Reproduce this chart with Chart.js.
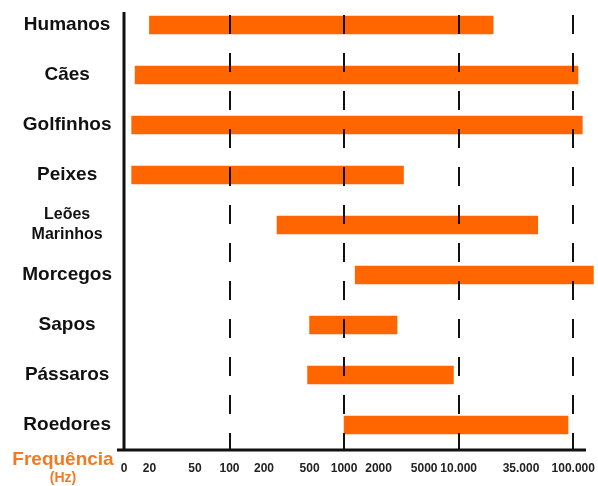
<!DOCTYPE html>
<html>
<head>
<meta charset="utf-8">
<script src="https://cdn.jsdelivr.net/npm/chart.js@4/dist/chart.umd.min.js"></script>
<style>
  html, body { margin: 0; padding: 0; background: #fff; }
  #wrap { width: 598px; height: 486px; }
</style>
</head>
<body>
<div id="wrap"><canvas id="hearingChart" width="598" height="486"></canvas></div>
<script>
// Faixas de audição (Hz)
const animals = ['Humanos', 'Cães', 'Golfinhos', 'Peixes', ['Leões', 'Marinhos'], 'Morcegos', 'Sapos', 'Pássaros', 'Roedores'];
const lowHz = [20, 15, 14, 14, 260, 1250, 500, 480, 1000];
const highHz = [20000, 110000, 120000, 3300, 49000, 150000, 2900, 9000, 90000];

// Eixo de frequência
const tickValues = [12, 20, 50, 100, 200, 500, 1000, 2000, 5000, 10000, 35000, 100000];
const tickLabels = ['0', '20', '50', '100', '200', '500', '1000', '2000', '5000', '10.000', '35.000', '100.000'];
const gridValues = [100, 1000, 10000, 100000];

const FONT = "'Liberation Sans', Arial, sans-serif";

// no extra room for overflowing tick labels
function noScalePadding(scale) {
    scale.paddingTop = 0;
    scale.paddingBottom = 0;
    scale.paddingLeft = 0;
    scale.paddingRight = 0;
}

// axis lines + "Frequência (Hz)" caption
const axisDecor = {
    id: 'axisDecor',
    afterDraw(chart) {
        const { ctx, chartArea } = chart;
        ctx.save();
        ctx.strokeStyle = '#111';
        ctx.lineWidth = 3;
        ctx.beginPath();
        ctx.moveTo(chartArea.left, 12);
        ctx.lineTo(chartArea.left, chartArea.bottom);
        ctx.moveTo(chartArea.left - 7, chartArea.bottom);
        ctx.lineTo(586, chartArea.bottom);
        ctx.stroke();

        ctx.fillStyle = '#F47920';
        ctx.textAlign = 'center';
        ctx.textBaseline = 'middle';
        ctx.font = 'bold 19px ' + FONT;
        ctx.fillText('Frequência', 63, 460);
        ctx.font = 'bold 14px ' + FONT;
        ctx.fillText('(Hz)', 63, 478);
        ctx.restore();
    }
};

const ctx = document.getElementById('hearingChart').getContext('2d');
new Chart(ctx, {
    type: 'bar',
    data: {
        labels: animals,
        datasets: [{
            data: lowHz.map((lo, i) => [lo, highHz[i]]),
            backgroundColor: '#FF6600',
            borderWidth: 0,
            borderSkipped: false,
            barThickness: 18
        }]
    },
    options: {
        indexAxis: 'y',
        responsive: false,
        animation: false,
        devicePixelRatio: 1,
        layout: { padding: { top: 0, right: 2, bottom: 0, left: 0 } },
        plugins: {
            legend: { display: false },
            tooltip: { enabled: false }
        },
        scales: {
            y: {
                grid: { display: false },
                border: { display: false },
                afterFit(scale) {
                    scale.width = 124;
                    noScalePadding(scale);
                },
                ticks: {
                    padding: 4,
                    crossAlign: 'center',
                    color: '#111',
                    font: (c) => c.index === 4
                        ? { family: FONT, size: 16, weight: 'bold', lineHeight: 1.25 }
                        : { family: FONT, size: 19, weight: 'bold' }
                }
            },
            x: {
                type: 'logarithmic',
                min: 12,
                max: 158000,
                afterFit(scale) {
                    scale.height = 36;
                    noScalePadding(scale);
                },
                afterBuildTicks(scale) {
                    scale.ticks = tickValues.map(v => ({ value: v }));
                },
                grid: {
                    z: 1,
                    drawTicks: false,
                    lineWidth: 2,
                    color: (c) => (c.tick && gridValues.includes(c.tick.value)) ? '#111' : 'rgba(0,0,0,0)'
                },
                border: { display: false, dash: [19, 19], dashOffset: 23 },
                ticks: {
                    autoSkip: false,
                    maxRotation: 0,
                    padding: 11,
                    color: '#222',
                    font: { family: FONT, size: 12, weight: 'bold' },
                    callback: (value, index) => tickLabels[index]
                }
            }
        }
    },
    plugins: [axisDecor]
});
</script>
</body>
</html>
